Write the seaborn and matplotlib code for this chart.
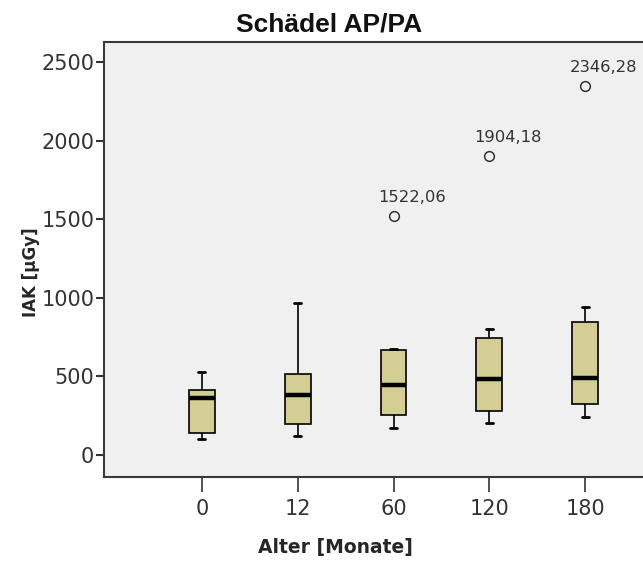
import numpy as np
import pandas as pd
import seaborn as sns
import matplotlib.pyplot as plt

# age groups (months) and box statistics (IAK in µGy)
ages = ["0", "12", "60", "120", "180"]
whisker_low = [104, 121, 170, 206, 244]
q1 = [140, 195, 257, 282, 323]
median = [362, 380, 445, 482, 490]
q3 = [413, 515, 668, 746, 848]
whisker_high = [525, 965, 676, 803, 943]

outlier_ages = ["60", "120", "180"]
outlier_values = [1522.06, 1904.18, 2346.28]
outlier_labels = ["1522,06", "1904,18", "2346,28"]

rows = []
for i, a in enumerate(ages):
    for v in (whisker_low[i], q1[i], median[i], q3[i], whisker_high[i]):
        rows.append({"Alter": a, "IAK": v})
df = pd.DataFrame(rows)
out = pd.DataFrame({"Alter": outlier_ages, "IAK": outlier_values})

sns.set_style("white", {"axes.facecolor": "#f0f0f0"})
plt.rcParams["font.family"] = ["DejaVu Sans"]

fig = plt.figure(figsize=(6.43, 5.65), dpi=100)
ax = fig.add_axes([104 / 643, 88 / 565, 579 / 643, 435 / 565])

sns.boxplot(data=df, x="Alter", y="IAK", order=ages, whis=(0, 100),
            width=0.27, color="#d5ce94", saturation=1, linecolor="black",
            linewidth=1.2, medianprops={"linewidth": 3.2, "color": "black"},
            capprops={"linewidth": 2}, capwidths=0.075, ax=ax)
sns.stripplot(data=out, x="Alter", y="IAK", order=ages, jitter=False,
              color="#f0f0f0", edgecolor="#333333", linewidth=1.1, size=7,
              ax=ax)

for a, v, lab in zip(outlier_ages, outlier_values, outlier_labels):
    ax.annotate(lab, (ages.index(a), v), xytext=(-11, 10),
                textcoords="offset points", ha="left", va="baseline",
                fontsize=11.8, color="#333333")

ax.set_xlim(-1.02, 5.02)
ax.set_ylim(-140, 2627)
ax.set_yticks([0, 500, 1000, 1500, 2000, 2500])

for s in ["left", "bottom", "top"]:
    ax.spines[s].set_color("#3a3a3a")
    ax.spines[s].set_linewidth(1.5)
ax.tick_params(axis="y", length=6, width=1.5, pad=1, labelsize=15,
               colors="#333333", left=True)
ax.tick_params(axis="x", length=11, width=1.2, pad=5, labelsize=15,
               colors="#333333", bottom=True)

ax.set_xlabel("Alter [Monate]", fontsize=13.5, fontweight="bold")
ax.xaxis.set_label_coords(0.399, -0.14)
ax.set_ylabel("IAK [µGy]", fontsize=12, fontweight="bold")
ax.yaxis.set_label_coords(-0.11, 0.47)
fig.text(329 / 643, 1 - 24 / 565, "Schädel AP/PA", ha="center", va="center",
         fontsize=19, fontweight="bold", family=["Liberation Sans"],
         color="#111111")

fig.savefig("out.png", dpi=100)
